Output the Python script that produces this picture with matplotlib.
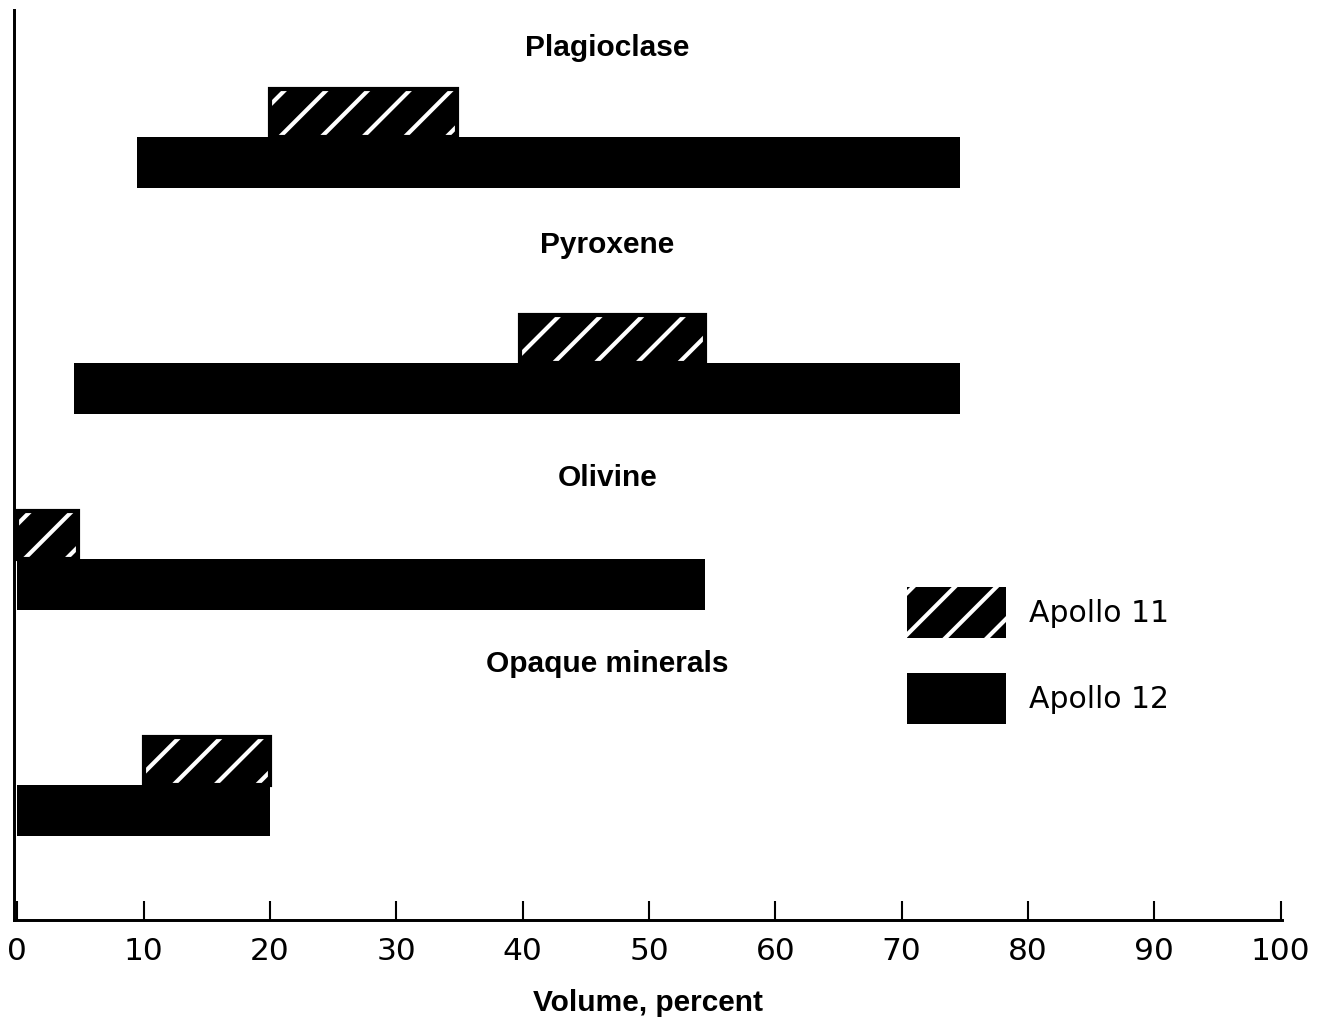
"""Mineral volume ranges in Apollo 11 and Apollo 12 rocks."""
import matplotlib
matplotlib.use('Agg')
import matplotlib.pyplot as plt
from matplotlib.patches import Patch

plt.rcParams.update({
    'font.family': 'DejaVu Sans',
    'hatch.color': 'white',
    'hatch.linewidth': 1.2,
})

# Data (volume percent ranges)
minerals = ['Plagioclase', 'Pyroxene', 'Olivine', 'Opaque minerals']
apollo11_low = [20, 39.8, 0, 10]
apollo11_high = [34.8, 54.4, 4.8, 20]
apollo12_low = [9.5, 4.5, 0, 0]
apollo12_high = [74.6, 74.6, 54.4, 20]
xticks = [0, 10, 20, 30, 40, 50, 60, 70, 80, 90, 100]

# Layout: vertical placement of each row (axis units, bottom = 0)
row_base = [732, 506, 310, 84]      # bottom of Apollo 12 bar
label_y = [872, 675, 442, 256]
h12 = 51
h11 = 48

DPI = 250
fig = plt.figure(figsize=(1322 / DPI, 1018 / DPI), dpi=DPI)
ax = fig.add_axes([14 / 1322, 98 / 1018, 1268 / 1322, 910 / 1018])

for i, name in enumerate(minerals):
    w12 = apollo12_high[i] - apollo12_low[i]
    w11 = apollo11_high[i] - apollo11_low[i]
    ax.barh(row_base[i], w12, left=apollo12_low[i], height=h12,
            align='edge', color='black', linewidth=0)
    ax.barh(row_base[i] + h12, w11, left=apollo11_low[i], height=h11,
            align='edge', color='black', hatch='//', linewidth=0)
    ax.barh(row_base[i] + h12, w11, left=apollo11_low[i], height=h11,
            align='edge', fill=False, edgecolor='black', linewidth=1.2)
    ax.text(46.7, label_y[i], name, ha='center', va='center',
            family='Liberation Sans', fontweight='bold', fontsize=8.6)

ax.set_xlim(-0.25, 100.1)
ax.set_ylim(0, 910)
ax.set_xticks(xticks)
ax.set_xticklabels([str(t) for t in xticks], fontsize=9)
ax.set_yticks([])
ax.tick_params(axis='x', direction='in', length=5.5, width=0.6, pad=5)
for side in ['top', 'right']:
    ax.spines[side].set_visible(False)
for side in ['left', 'bottom']:
    ax.spines[side].set_linewidth(0.85)

ax.set_xlabel('Volume, percent', family='Liberation Sans',
              fontweight='bold', fontsize=8.6, labelpad=6.5)

handles = [Patch(facecolor='black', hatch='//', linewidth=0),
           Patch(facecolor='black', linewidth=0)]
ax.legend(handles, ['Apollo 11', 'Apollo 12'], loc='upper left',
          bbox_to_anchor=(893 / 1268, (920 - 587) / 910),
          frameon=False, borderpad=0, borderaxespad=0,
          fontsize=8.6, handlelength=3.33, handleheight=2.25,
          handletextpad=0.77, labelspacing=1.17)

plt.savefig('out.png', dpi=DPI, facecolor='white')
